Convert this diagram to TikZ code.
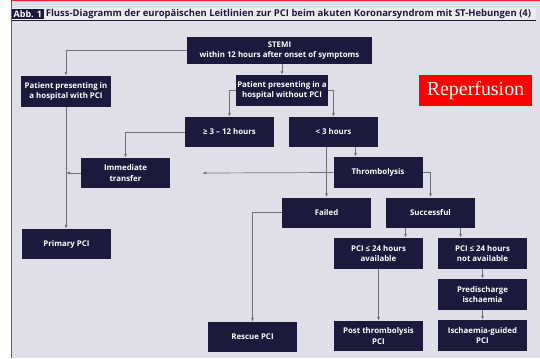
\documentclass[tikz,border=0pt]{standalone}
\usepackage{fontspec}
\setmainfont{Open Sans}
\newfontfamily\serifhead{Liberation Serif}
\usepackage{tikz}
\usetikzlibrary{positioning, arrows.meta}
\usepackage{xcolor}
\definecolor{boxNavy}{RGB}{28, 26, 60}
\definecolor{paperBg}{RGB}{224, 223, 232}
\definecolor{stripBg}{RGB}{236, 236, 241}
\definecolor{lineGray}{RGB}{112, 112, 124}
\definecolor{frameRed}{RGB}{236, 28, 36}

\begin{document}
\begin{tikzpicture}[x=1bp, y=-1bp, >={Latex[length=4bp, width=3bp]},
  font=\fontsize{7.9}{10.2}\selectfont\bfseries,
  box/.style={fill=boxNavy, text=white, align=center, minimum width=89bp,
    minimum height=30bp, inner sep=1bp},
  link/.style={draw=lineGray, line width=0.7bp}]
  \useasboundingbox (0,0) rectangle (540,358);

  % Paper and frame
  \fill[white] (0,0) rectangle (540,358);
  \fill[paperBg] (12,1) rectangle (540,358);
  \fill[frameRed] (11,0) rectangle (12.3,358);
  \fill[frameRed] (11,0) rectangle (540,1.3);

  % Title
  \fill[stripBg] (12,8) rectangle (536,19.5);
  \draw[boxNavy, line width=0.6bp] (12,19.8) -- (536,19.8);
  \node[fill=boxNavy, text=white, anchor=west, minimum height=10.5bp,
    inner sep=1.5bp, font=\fontsize{9}{9}\selectfont\bfseries] (abb) at (12,14) {Abb. 1};
  \node[right=2bp of abb, inner sep=0pt, text=boxNavy,
    font=\fontsize{9.5}{10}\selectfont\bfseries] (title)
    {Fluss-Diagramm der europäischen Leitlinien zur PCI beim akuten Koronarsyndrom mit ST-Hebungen (4)};

  % Boxes
  \node[box, minimum width=185bp, minimum height=27bp] (stemi) at (279.5,50.5)
    {STEMI\\within 12 hours after onset of symptoms};
  \node[box, minimum height=31bp] (withpci) at (66,91.5) {Patient presenting in\\a hospital with PCI};
  \node[box, minimum width=90bp, minimum height=31bp] (withoutpci) at (282,90.5)
    {Patient presenting in a\\hospital without PCI};
  \node[box] (late) at (229.5,132) {≥ 3 – 12 hours};
  \node[box] (early) at (333.5,132) {< 3 hours};
  \node[box] (transfer) at (125.5,173) {Immediate\\transfer};
  \node[box, minimum height=31bp] (thrombo) at (378,172.5) {Thrombolysis};
  \node[box] (failed) at (326.5,212.5) {Failed};
  \node[box] (success) at (430.5,212.5) {Successful};
  \node[box] (primary) at (66.5,244) {Primary PCI};
  \node[box, minimum height=31bp] (avail) at (378.5,253.5) {PCI ≤ 24 hours\\available};
  \node[box, minimum height=31bp] (notavail) at (482.5,253.5) {PCI ≤ 24 hours\\not available};
  \node[box, minimum height=31bp] (predis) at (482.5,294.5) {Predischarge\\ischaemia};
  \node[box] (rescue) at (252.5,337) {Rescue PCI};
  \node[box] (postthr) at (378.5,336) {Post thrombolysis\\PCI};
  \node[box, minimum height=31bp] (guided) at (482.5,335.5) {Ischaemia-guided\\PCI};

  \node[fill=red, text=white, minimum width=113bp, minimum height=31bp, inner sep=0pt,
    font=\serifhead\fontsize{20}{24}\selectfont] (reperf) at (475.5,90.5) {Reperfusion};

  % Connectors
  \draw[link, ->] (stemi.west) -| (withpci.north);
  \draw[link, ->] (stemi.south -| withoutpci.north) -- (withoutpci.north);
  \draw[link, ->] (withoutpci.west) -| (late.north);
  \draw[link, ->] (withoutpci.east) -| (early.north);
  \draw[link, ->] (late.west) -| (transfer.north);
  \draw[link, ->] (withpci.south) -- (withpci.south |- primary.north);
  \draw[link, ->] (transfer.west) -- (transfer.west -| withpci.south);
  \draw[link, ->] ([xshift=22bp]early.south) -- ([xshift=22bp]early.south |- thrombo.north);
  \draw[link, ->] (early.south -| failed.north) -- (failed.north);
  \draw[link, ->] (thrombo.west) -- ([xshift=32bp]transfer.east);
  \draw[link, ->] (thrombo.east) -| (success.north);
  \draw[link, ->] (failed.west) -| (rescue.north);
  \draw[link, ->] ([xshift=-25bp]success.south) -- ([xshift=-25bp]success.south |- avail.north);
  \draw[link, ->] ([xshift=30bp]success.south) -- ([xshift=30bp]success.south |- notavail.north);
  \draw[link, ->] (avail.south) -- (postthr.north);
  \draw[link, ->] (notavail) -- (predis);
  \draw[link, ->] (predis) -- (guided);
\end{tikzpicture}
\end{document}
